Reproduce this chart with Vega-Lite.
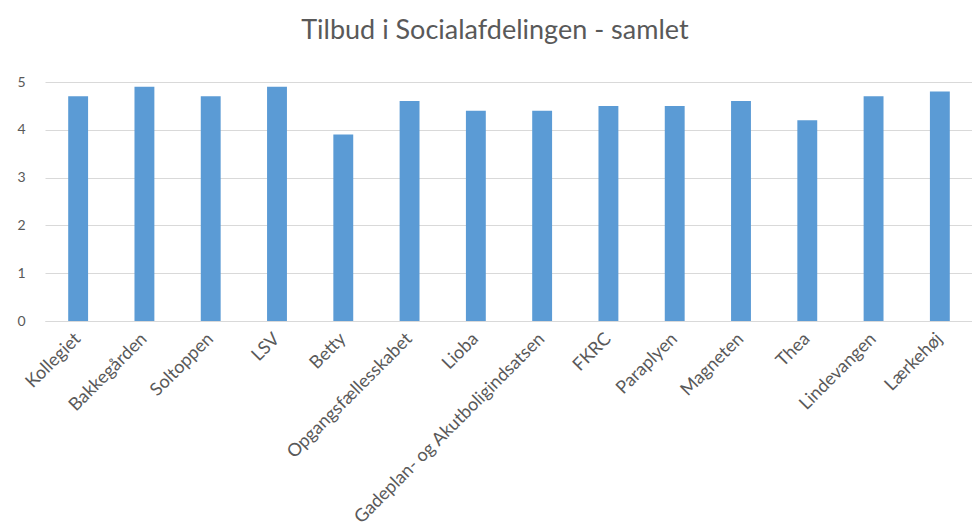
{
  "$schema": "https://vega.github.io/schema/vega-lite/v6.json",
  "width": 928,
  "height": 239,
  "autosize": {"type": "none"},
  "padding": {"left": 45, "top": 82, "right": 0, "bottom": 207},
  "background": "white",
  "title": {
    "text": "Tilbud i Socialafdelingen - samlet",
    "font": "Lato",
    "fontSize": 27,
    "fontWeight": "normal",
    "color": "#595959",
    "anchor": "middle",
    "frame": "bounds",
    "offset": 30
  },
  "data": {
    "values": [
      {"tilbud": "Kollegiet", "score": 4.7},
      {"tilbud": "Bakkegården", "score": 4.9},
      {"tilbud": "Soltoppen", "score": 4.7},
      {"tilbud": "LSV", "score": 4.9},
      {"tilbud": "Betty", "score": 3.9},
      {"tilbud": "Opgangsfællesskabet", "score": 4.6},
      {"tilbud": "Lioba", "score": 4.4},
      {"tilbud": "Gadeplan- og Akutboligindsatsen", "score": 4.4},
      {"tilbud": "FKRC", "score": 4.5},
      {"tilbud": "Paraplyen", "score": 4.5},
      {"tilbud": "Magneten", "score": 4.6},
      {"tilbud": "Thea", "score": 4.2},
      {"tilbud": "Lindevangen", "score": 4.7},
      {"tilbud": "Lærkehøj", "score": 4.8}
    ]
  },
  "mark": {"type": "bar", "color": "#5B9BD5"},
  "encoding": {
    "x": {
      "field": "tilbud",
      "type": "nominal",
      "sort": null,
      "title": null,
      "scale": {"paddingInner": 0.7, "paddingOuter": 0.35},
      "axis": {
        "labelAngle": -45,
        "labelAlign": "right",
        "labelBaseline": "middle",
        "labelFont": "Lato",
        "labelFontSize": 18,
        "labelColor": "#595959",
        "labelPadding": 15,
        "ticks": false,
        "domain": true,
        "domainColor": "#D9D9D9",
        "labelLimit": 400
      }
    },
    "y": {
      "field": "score",
      "type": "quantitative",
      "title": null,
      "scale": {"domain": [0, 5], "nice": false},
      "axis": {
        "values": [0, 1, 2, 3, 4, 5],
        "labelFont": "Lato",
        "labelFontSize": 14,
        "labelColor": "#595959",
        "labelPadding": 20,
        "ticks": false,
        "domain": false,
        "grid": true,
        "gridColor": "#D9D9D9",
        "gridWidth": 1
      }
    }
  },
  "config": {"view": {"stroke": null}}
}
